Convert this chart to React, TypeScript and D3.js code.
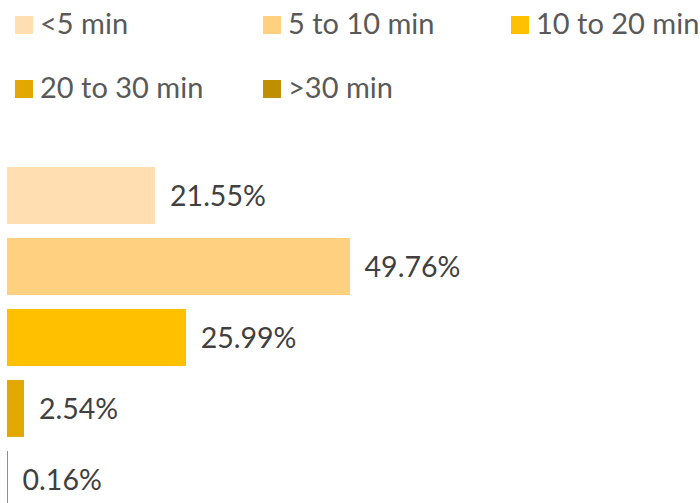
import React from "react";
import * as d3 from "d3";

const categories = ["<5 min", "5 to 10 min", "10 to 20 min", "20 to 30 min", ">30 min"];
const values = [21.55, 49.76, 25.99, 2.54, 0.16];
const labels = ["21.55%", "49.76%", "25.99%", "2.54%", "0.16%"];
const colors = ["#FFDFB2", "#FFD07F", "#FFC000", "#E3A800", "#BF8F00"];

const W = 700;
const H = 503;
const FONT = "Lato, 'Noto Sans', sans-serif";

export default function App() {
  const x = d3.scaleLinear().domain([0, 100]).range([6.5, 696]);
  const y = d3
    .scaleBand<string>()
    .domain(categories)
    .range([160, 515])
    .paddingInner(14 / 71)
    .paddingOuter(7 / 71);

  const legendCols = [15, 263, 511];
  const legendRows = [16, 80];

  return (
    <svg
      width={W}
      height={H}
      style={{ position: "absolute", left: 0, top: 0, background: "#fff" }}
    >
      <g>
        {categories.map((c, i) => {
          const col = i % 3;
          const row = Math.floor(i / 3);
          const lx = legendCols[col];
          const ly = legendRows[row];
          return (
            <g key={c}>
              <rect x={lx} y={ly} width={18} height={18} fill={colors[i]} />
              <text
                x={lx + 25}
                y={ly + 17.5}
                fontFamily={FONT}
                fontSize={29}
                fill="#595959"
              >
                {c}
              </text>
            </g>
          );
        })}
      </g>
      <g>
        {categories.map((c, i) => {
          const by = y(c)!;
          const bh = y.bandwidth();
          const x0 = x(0);
          const x1 = Math.max(x(values[i]), x0 + 1);
          return (
            <g key={c}>
              <rect
                x={x0}
                y={by}
                width={x1 - x0}
                height={bh}
                fill={colors[i]}
                shapeRendering="crispEdges"
              />
              <text
                x={x1 + 15}
                y={by + bh / 2 + 10}
                fontFamily={FONT}
                fontSize={28.5}
                fill="#404040"
              >
                {labels[i]}
              </text>
            </g>
          );
        })}
      </g>
    </svg>
  );
}
